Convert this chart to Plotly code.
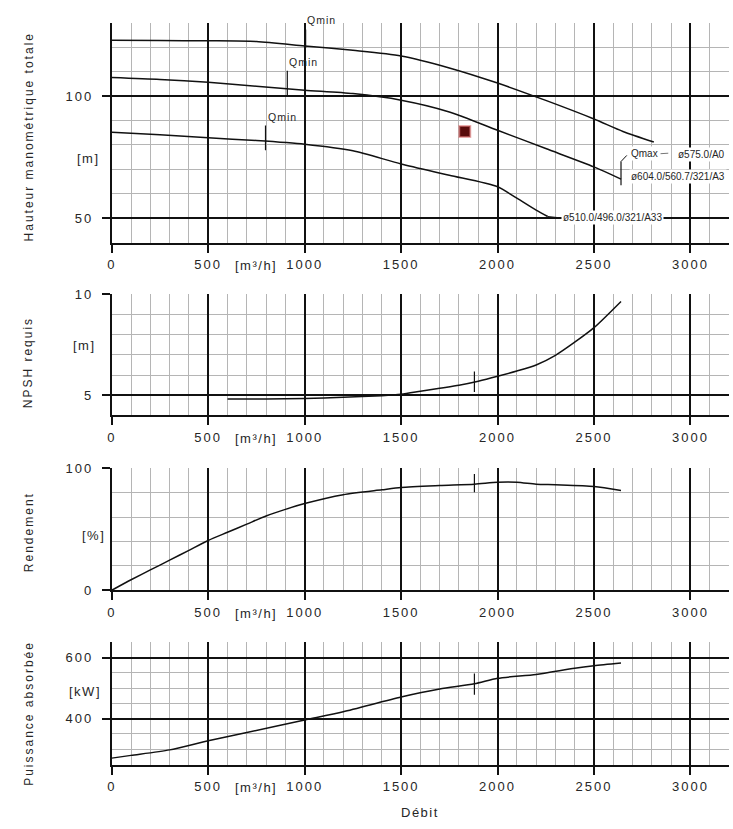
import plotly.graph_objects as go

# ---------------- data ----------------
# Head curves (Hauteur manométrique totale) [m]
q_575 = [0, 250, 500, 750, 1000, 1250, 1500, 1750, 2000, 2250, 2500, 2650, 2810]
h_575 = [122.8, 122.7, 122.6, 122.3, 120.5, 118.7, 116.4, 111.5, 105.3, 98.2, 90.6, 85.5, 81.2]

q_604 = [0, 250, 500, 750, 1000, 1250, 1500, 1750, 2000, 2250, 2500, 2640]
h_604 = [107.6, 106.8, 105.6, 104.0, 102.4, 101.0, 98.3, 93.5, 86.0, 78.5, 71.0, 66.0]

q_510 = [0, 250, 500, 750, 1000, 1250, 1500, 1750, 2000, 2100, 2200, 2260]
h_510 = [85.2, 84.2, 82.9, 81.8, 80.3, 77.6, 72.2, 67.6, 62.9, 58.2, 53.3, 50.7]

# NPSH requis [m]
q_npsh = [600, 800, 1000, 1200, 1400, 1500, 1600, 1700, 1800, 1900, 2000, 2100, 2200, 2300, 2400, 2500, 2640]
npsh = [4.81, 4.82, 4.84, 4.9, 4.98, 5.05, 5.2, 5.35, 5.5, 5.7, 5.94, 6.2, 6.5, 6.98, 7.63, 8.35, 9.65]

# Rendement [%]
q_eff = [0, 100, 200, 300, 400, 500, 600, 700, 800, 900, 1000, 1200, 1400, 1500, 1700, 1880, 2000, 2100, 2200, 2300, 2500, 2640]
eff = [0, 8.6, 16.7, 24.7, 32.8, 40.9, 47.6, 54.3, 61, 66.4, 71.2, 78.5, 82.5, 84.4, 86, 87.1, 88.7, 88.7, 87.1, 86.6, 85.2, 82]

# Puissance absorbée [kW]
q_pow = [0, 100, 300, 500, 700, 1000, 1200, 1500, 1700, 1880, 2000, 2200, 2400, 2500, 2640]
power = [271, 280, 298, 328, 355, 396, 423, 471, 497, 514, 532, 545, 565, 573, 582]

# Qmin markers on the head curves
qmin_q = [1005, 910, 797]
qmin_lo = [119.8, 100.1, 77.8]
qmin_hi = [127.2, 110.3, 87.9]
qmin_lbl_q = [1085, 992, 884]
qmin_lbl_h = [129.9, 113.9, 91.3]

# Qmax bracket
qmax_q = 2640
qmax_lo, qmax_hi = 63.5, 73.2

# Duty point
duty_q = 1880
duty_h = 85.5
duty_marker_q = 1830
npsh_tick = [5.16, 6.18]
eff_tick = [80.4, 95.4]
pow_tick = [478.5, 548]

x_ticks = [0, 500, 1000, 1500, 2000, 2500, 3000]

# ---------------- layout helpers ----------------
W, H = 733, 829
FONT = "Liberation Sans, Arial, sans-serif"
TXT = "#262626"
MAJOR = "#111111"
MINOR = "#b5b5b5"

def sp(t, ls):
    return f'<span style="letter-spacing:{ls}px">{t}</span>'

def ydom(top_px, bot_px):
    return [1 - bot_px / H, 1 - top_px / H]

xdom = [107.5 / W, 729 / W]
panels = [
    dict(top=16, bot=240, rng=[40, 130], dtick=50, minor=10, vals=[50, 100]),
    dict(top=292.7, bot=416, rng=[4, 10], dtick=5, minor=1, vals=[5, 10]),
    dict(top=470, bot=594, rng=[0, 100], dtick=100, minor=20, vals=[0, 100]),
    dict(top=647, bot=771.5, rng=[250, 650], dtick=200, minor=50, vals=[400, 600]),
]

fig = go.Figure()

def line(xs, ys, ax, width=1.4, color=MAJOR, smooth=False):
    i = "" if ax == 1 else str(ax)
    ln = dict(color=color, width=width)
    if smooth:
        ln.update(shape="spline", smoothing=0.7)
    fig.add_trace(go.Scatter(x=xs, y=ys, mode="lines", xaxis="x" + i, yaxis="y" + i,
                             line=ln, hoverinfo="skip", showlegend=False))

# Head curves
line(q_575, h_575, 1, width=1.5, smooth=True)
line(q_604, h_604, 1, width=1.5, smooth=True)
line(q_510, h_510, 1, width=1.5, smooth=True)
for k in range(3):
    line([qmin_q[k], qmin_q[k]], [qmin_lo[k], qmin_hi[k]], 1, width=1.2)
line([qmax_q, qmax_q], [qmax_lo, qmax_hi], 1, width=1.2)
line([qmax_q, qmax_q + 30], [qmax_hi, qmax_hi + 2.5], 1, width=1.0)
line([2845, 2885], [76.4, 76.6], 1, width=1.0, color="#777777")
line([2260, 2320], [50.7, 50.2], 1, width=1.0)

# Duty point marker (red)
fig.add_trace(go.Scatter(x=[duty_marker_q], y=[duty_h], mode="markers", xaxis="x", yaxis="y",
                         marker=dict(symbol="square", size=11, color="#5a0d0d",
                                     line=dict(color="rgba(220,120,120,0.6)", width=2)),
                         hoverinfo="skip", showlegend=False))

# NPSH
line(q_npsh, npsh, 2, width=1.5, smooth=True)
line([duty_q, duty_q], npsh_tick, 2, width=1.2)
# Rendement
line(q_eff, eff, 3, width=1.5, smooth=True)
line([duty_q, duty_q], eff_tick, 3, width=1.2)
# Puissance
line(q_pow, power, 4, width=1.5, smooth=True)
line([duty_q, duty_q], pow_tick, 4, width=1.2)

layout = dict(width=W, height=H, margin=dict(l=0, r=0, t=0, b=0),
              paper_bgcolor="white", plot_bgcolor="white",
              font=dict(family=FONT, color=TXT, size=12), showlegend=False)

annotations = []
for n, p in enumerate(panels, start=1):
    i = "" if n == 1 else str(n)
    layout["xaxis" + i] = dict(
        domain=xdom, range=[0, 3200], anchor="y" + i,
        tickmode="array", tickvals=x_ticks, ticktext=[sp(str(v), 2) for v in x_ticks],
        showgrid=True, gridcolor=MAJOR, gridwidth=1.6,
        minor=dict(dtick=100, tick0=0, showgrid=True, gridcolor=MINOR, gridwidth=1),
        showline=True, linecolor=MAJOR, linewidth=2,
        ticks="outside", ticklen=8, tickwidth=1.5, tickcolor=MAJOR,
        ticklabelstandoff=1, tickfont=dict(size=13, color=TXT, family=FONT),
        zeroline=False, fixedrange=True)
    layout["yaxis" + i] = dict(
        domain=ydom(p["top"], p["bot"]), range=p["rng"], anchor="x" + i,
        tickmode="array", tickvals=p["vals"], ticktext=[sp(str(v), 2) for v in p["vals"]],
        showgrid=True, gridcolor=MAJOR, gridwidth=1.6,
        minor=dict(dtick=p["minor"], tick0=0, showgrid=True, gridcolor=MINOR, gridwidth=1),
        showline=True, linecolor=MAJOR, linewidth=2,
        ticks="outside", ticklen=8, tickwidth=1.5, tickcolor=MAJOR,
        ticklabelstandoff=6, tickfont=dict(size=13, color=TXT, family=FONT),
        zeroline=False, fixedrange=True)
    annotations.append(dict(xref="x" + i, yref="y" + i + " domain", x=750, y=0, yshift=-23,
                            text=sp("[m³/h]", 1.5), showarrow=False, xanchor="center",
                            yanchor="middle", font=dict(size=13)))

# Axis titles (rotated)
titles = [("Hauteur manométrique totale", 132), ("NPSH requis", 362),
          ("Rendement", 535), ("Puissance absorbée", 719)]
for t, ypx in titles:
    annotations.append(dict(xref="paper", yref="paper", x=24 / W, y=1 - ypx / H,
                            text=sp(t, 2), textangle=-90, showarrow=False,
                            xanchor="center", yanchor="middle", font=dict(size=12)))

# Units
units = [("[m]", "y", 74.4, 84), ("[m]", "y2", 7.45, 80), ("[%]", "y3", 45.2, 89), ("[kW]", "y4", 488, 81)]
for t, yr, yv, xpx in units:
    annotations.append(dict(xref="paper", yref=yr, x=xpx / W, y=yv, text=sp(t, 1.5),
                            showarrow=False, xanchor="center", yanchor="middle",
                            font=dict(size=13)))

# Qmin labels
for k in range(3):
    annotations.append(dict(xref="x", yref="y", x=qmin_lbl_q[k], y=qmin_lbl_h[k],
                            yshift=3 if k == 0 else 0,
                            text=sp("Qmin", 1), showarrow=False, xanchor="center",
                            yanchor="middle", font=dict(size=10.5)))

# Curve labels
curve_labels = [("Qmax", 2680, 76.4), ("ø575.0/A0", 2925, 76.1),
                ("ø604.0/560.7/321/A3", 2680, 67.0), ("ø510.0/496.0/321/A33", 2330, 50.3)]
for t, xv, yv in curve_labels:
    annotations.append(dict(xref="x", yref="y", x=xv, y=yv, text=t,
                            showarrow=False, xanchor="left", yanchor="middle",
                            bgcolor="white", borderpad=1, font=dict(size=10)))

# Débit
annotations.append(dict(xref="paper", yref="paper", x=418 / W, y=1 - 820 / H,
                        text=sp("Débit", 1.5), showarrow=False, xanchor="center",
                        yanchor="middle", font=dict(size=13)))

layout["annotations"] = annotations
fig.update_layout(**layout)
fig.write_html("out.html", config={"displayModeBar": False},
               post_script="document.body.style.margin='0';document.body.style.overflow='hidden';")
